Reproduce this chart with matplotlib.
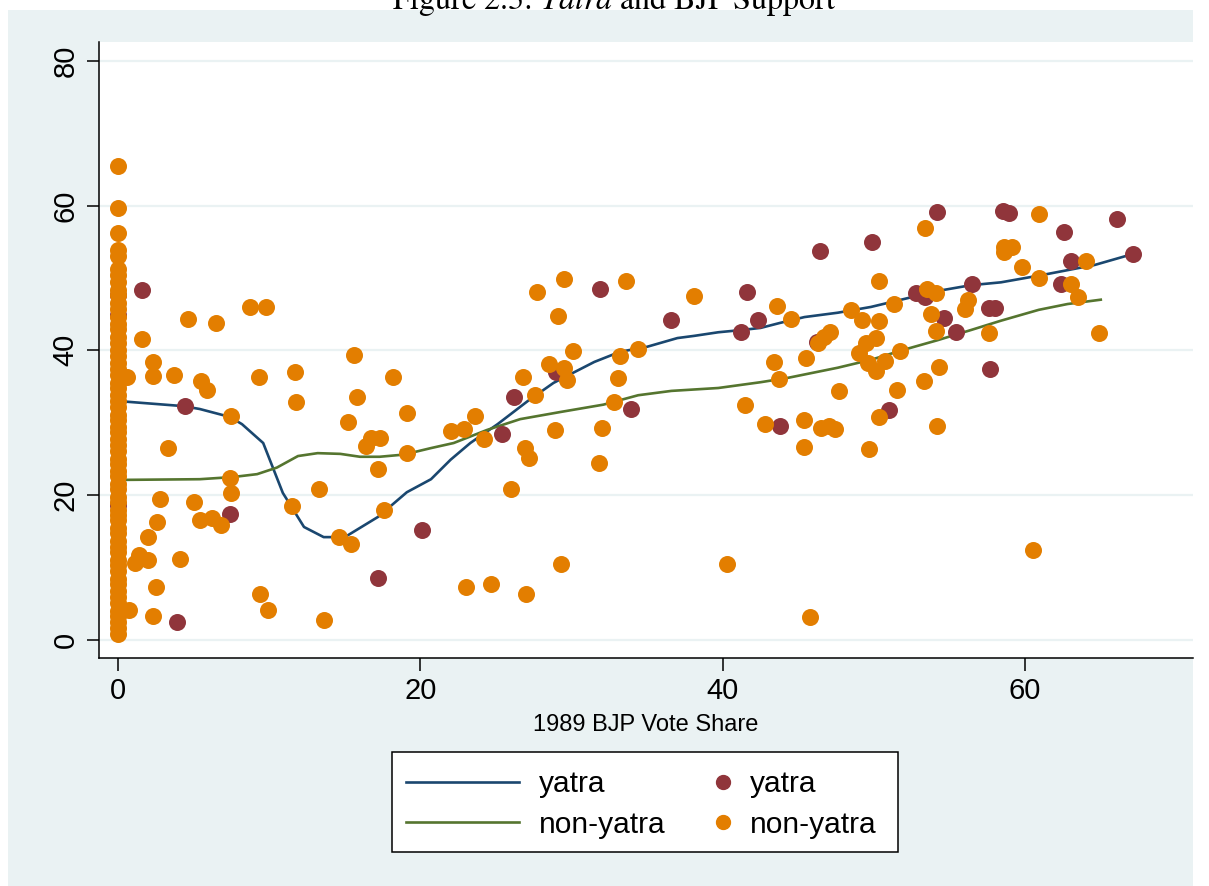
from matplotlib import pyplot as plt
from matplotlib.lines import Line2D
from matplotlib.patches import Rectangle

# ---- data ----
# yatra districts (x = 1989 BJP vote share, y = later BJP vote share)
yatra_x = [0, 0, 0, 1.6, 4.4, 7.4, 3.9, 17.2, 20.1, 25.4, 26.2, 29.0, 31.9, 33.9,
           36.6, 41.2, 41.6, 42.3, 43.8, 46.2, 46.4, 49.9, 51.0, 52.8, 53.4, 54.2,
           54.6, 55.4, 56.5, 57.6, 58.0, 57.7, 58.5, 58.9, 62.4, 62.6, 63.0, 66.1, 67.1]
yatra_y = [47.6, 44.9, 18.6, 48.3, 32.3, 17.4, 2.5, 8.5, 15.2, 28.5, 33.6, 37.0, 48.5, 31.9,
           44.2, 42.5, 48.1, 44.2, 29.6, 41.2, 53.7, 55.0, 31.8, 47.9, 47.4, 59.1,
           44.5, 42.5, 49.2, 45.8, 45.9, 37.4, 59.3, 59.0, 49.2, 56.3, 52.4, 58.1, 53.3]

# non-yatra districts with no BJP candidate in 1989 (the column at x = 0)
zero_y = [65.5, 59.7, 56.2, 53.9, 53.0, 51.2, 50.4, 49.5, 48.4, 47.6, 46.5, 45.7, 44.6,
          43.7, 42.9, 41.8, 41.0, 40.1, 39.2, 38.2, 37.4, 36.6, 35.5, 34.8, 33.8, 33.0,
          32.2, 31.1, 30.4, 29.4, 28.7, 27.7, 26.9, 26.1, 25.0, 24.3, 23.4, 22.6, 21.5,
          20.8, 19.8, 19.1, 18.0, 17.3, 16.5, 15.4, 14.7, 13.7, 12.9, 12.1, 11.0, 10.3,
          9.5, 8.4, 7.7, 6.7, 5.9, 5.1, 4.0, 3.3, 2.5, 1.6, 0.8]

# other non-yatra districts
other_x = [0.6, 0.7, 1.6, 4.6, 6.5, 8.7, 9.8, 2.3, 2.3, 3.7, 5.5, 5.9, 9.3, 11.7, 11.8,
           15.6, 15.8, 18.2, 19.1, 15.2, 7.5, 3.3, 16.7, 17.3, 16.4, 19.1, 17.2, 7.4,
           7.5, 13.3, 11.5, 2.8, 5.0, 2.6, 5.4, 6.2, 6.8, 2.0, 1.4, 1.1, 2.0, 4.1, 2.5,
           2.3, 9.4, 9.9, 13.6, 14.6, 15.4, 17.6,
           27.7, 29.5, 33.6, 38.1, 29.1, 30.1, 33.2, 34.4, 28.5, 29.5, 29.7, 26.8, 33.1,
           27.6, 32.8, 23.6, 22.0, 22.9, 24.2, 28.9, 32.0, 26.9, 27.2, 31.8, 26.0, 29.3,
           40.3, 23.0, 24.7, 27.0,
           53.4, 50.3, 43.6, 44.5, 48.5, 49.2, 50.3, 51.3, 53.5, 54.1, 53.8, 54.1, 56.2,
           56.0, 57.6, 46.3, 46.7, 47.1, 49.5, 50.1, 49.0, 51.7, 49.6, 50.1, 50.7, 43.4,
           45.5, 43.7, 54.3, 53.3, 51.5, 47.7, 41.5, 42.8, 45.4, 46.5, 47.0, 47.4, 50.3,
           54.2, 45.4, 49.7, 45.8, 58.6, 59.1, 58.6, 59.8,
           60.9, 60.9, 64.0, 63.0, 63.5, 64.9, 60.5]
other_y = [36.3, 4.1, 41.6, 44.3, 43.8, 46.0, 46.0, 38.4, 36.5, 36.6, 35.8, 34.5, 36.3, 37.0, 32.9,
           39.4, 33.6, 36.3, 31.4, 30.1, 30.9, 26.5, 27.9, 27.9, 26.8, 25.8, 23.6, 22.4,
           20.3, 20.8, 18.5, 19.5, 19.1, 16.3, 16.6, 16.8, 15.9, 14.2, 11.7, 10.6, 11.0, 11.2, 7.3,
           3.3, 6.4, 4.1, 2.8, 14.2, 13.3, 18.0,
           48.1, 49.9, 49.6, 47.5, 44.8, 39.9, 39.2, 40.2, 38.1, 37.5, 35.9, 36.3, 36.2,
           33.8, 32.9, 30.9, 28.9, 29.1, 27.8, 29.0, 29.3, 26.5, 25.1, 24.4, 20.8, 10.5,
           10.5, 7.3, 7.7, 6.4,
           56.9, 49.6, 46.1, 44.3, 45.6, 44.2, 44.1, 46.4, 48.5, 47.9, 45.0, 42.7, 47.0,
           45.7, 42.4, 41.0, 41.8, 42.5, 41.0, 41.7, 39.6, 39.9, 38.3, 37.2, 38.5, 38.4,
           38.9, 36.0, 37.7, 35.8, 34.5, 34.4, 32.5, 29.8, 30.4, 29.3, 29.6, 29.1, 30.8,
           29.6, 26.7, 26.4, 3.2, 54.3, 54.3, 53.6, 51.5,
           58.8, 50.0, 52.3, 49.2, 47.4, 42.4, 12.4]

# lowess fits
fit_yatra_x = [0, 4.3, 5.4, 7.4, 8.2, 9.6, 10.9, 12.3, 13.6, 15.0, 17.2, 19.1, 20.7, 22.0,
               23.3, 25.1, 27.1, 28.8, 30.1, 31.5, 33.2, 35.0, 37.0, 38.1, 39.7, 41.2,
               42.5, 43.8, 45.4, 47.6, 49.8, 52.0, 54.2, 56.4, 58.4, 61.1, 64.6, 67.1]
fit_yatra_y = [33.0, 32.3, 31.9, 30.8, 29.8, 27.2, 20.3, 15.6, 14.2, 14.2, 17.0, 20.4, 22.2, 24.9,
               27.2, 29.8, 33.0, 35.5, 36.9, 38.4, 39.8, 40.5, 41.7, 42.0, 42.5, 42.8,
               43.1, 43.8, 44.6, 45.2, 46.0, 47.1, 48.2, 49.0, 49.4, 50.4, 51.8, 53.3]
fit_other_x = [0, 5.4, 7.6, 9.2, 10.5, 11.9, 13.2, 14.7, 16.0, 17.3, 18.9, 20.7, 22.2, 24.4,
               26.6, 29.3, 32.1, 34.4, 36.6, 39.7, 42.5, 44.3, 47.6, 49.8, 52.0, 54.2,
               56.4, 58.4, 60.9, 62.8, 65.0]
fit_other_y = [22.1, 22.2, 22.5, 22.9, 23.8, 25.4, 25.8, 25.7, 25.3, 25.3, 25.6, 26.5, 27.2, 29.0,
               30.5, 31.5, 32.5, 33.8, 34.4, 34.8, 35.6, 36.2, 37.6, 38.7, 40.1, 41.4,
               42.8, 44.1, 45.6, 46.4, 47.0]

x_ticks = [0, 20, 40, 60]
y_ticks = [0, 20, 40, 60, 80]

# stata s2color palette
NAVY = "#1a476f"
GREEN = "#55752f"
MAROON = "#90353b"
ORANGE = "#e37e00"
BG = "#eaf2f3"

plt.rcParams["font.family"] = ["Liberation Sans", "DejaVu Sans"]
plt.rcParams["mathtext.fontset"] = "stix"

# 1. figure with the light graph region
fig = plt.figure(figsize=(12.09, 8.86), dpi=100)
fig.patches.append(Rectangle((8 / 1209, 0), 1185 / 1209, 1 - 10 / 886,
                             transform=fig.transFigure, facecolor=BG,
                             edgecolor="none", zorder=-10))
fig.text(614 / 1209, 1 - 9 / 886, r"Figure 2.3: $\it{Yatra}$ and BJP Support",
         ha="center", va="baseline", fontsize=23, family="STIXGeneral")

# 2. plot region
ax = fig.add_axes([99 / 1209, 1 - 658 / 886, 1094 / 1209, 616 / 886])
ax.set_facecolor("white")

for g in y_ticks:
    ax.axhline(g, color=BG, linewidth=1.6, zorder=0)

ax.plot(fit_yatra_x, fit_yatra_y, color=NAVY, linewidth=1.9, zorder=2)
ax.plot(fit_other_x, fit_other_y, color=GREEN, linewidth=1.9, zorder=2)
ax.scatter(yatra_x, yatra_y, s=150, color=MAROON, linewidths=0, zorder=3)
ax.scatter([0] * len(zero_y), zero_y, s=150, color=ORANGE, linewidths=0, zorder=4)
ax.scatter(other_x, other_y, s=150, color=ORANGE, linewidths=0, zorder=4)

# 3. axes configuration
ax.set_xlim(-1.26, 71.1)
ax.set_ylim(-2.5, 82.6)
ax.set_xticks(x_ticks)
ax.set_yticks(y_ticks)
for side in ["top", "right"]:
    ax.spines[side].set_visible(False)
for side in ["left", "bottom"]:
    ax.spines[side].set_linewidth(1.1)
ax.tick_params(axis="both", direction="out", length=9, width=1.1, labelsize=21, pad=5)
for lab in ax.get_yticklabels():
    lab.set_rotation(90)
    lab.set_va("center")
ax.set_xlabel("1989 BJP Vote Share", fontsize=17, labelpad=6)

# 4. legend: white box with line entries and marker entries
fig.patches.append(Rectangle((392 / 1209, 1 - 852 / 886), 506 / 1209, 100 / 886,
                             transform=fig.transFigure, facecolor="white",
                             edgecolor="black", linewidth=1.1, zorder=5))
line_handles = [Line2D([], [], color=NAVY, linewidth=1.9),
                Line2D([], [], color=GREEN, linewidth=1.9)]
dot_handles = [Line2D([], [], color=MAROON, marker="o", linestyle="none", markersize=10),
               Line2D([], [], color=ORANGE, marker="o", linestyle="none", markersize=10)]
leg1 = fig.legend(line_handles, ["yatra", "non-yatra"], loc="upper left",
                  bbox_to_anchor=(406 / 1209, 1 - 770 / 886), frameon=False,
                  fontsize=21.5, handlelength=3.8, handletextpad=0.65,
                  labelspacing=0.43, borderpad=0, borderaxespad=0)
leg2 = fig.legend(dot_handles, ["yatra", "non-yatra"], loc="upper left",
                  bbox_to_anchor=(714 / 1209, 1 - 770 / 886), frameon=False,
                  fontsize=21.5, handlelength=0.6, handletextpad=0.6,
                  labelspacing=0.43, borderpad=0, borderaxespad=0)
leg1.set_zorder(6)
leg2.set_zorder(6)

plt.savefig("out.png", dpi=100)
